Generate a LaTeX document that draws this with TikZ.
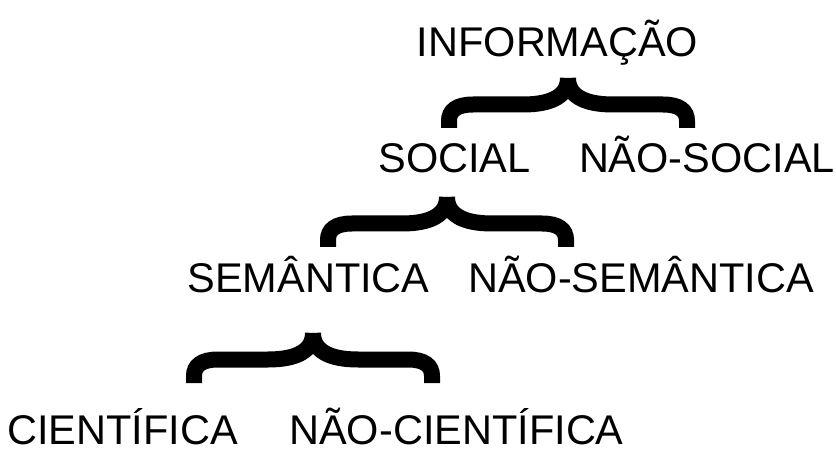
\documentclass[tikz,border=0pt]{standalone}
\usepackage{fontspec}
\setmainfont{Liberation Sans}
\begin{document}
\begin{tikzpicture}[x=1pt,y=-1pt,
  rotulo/.style={anchor=base,inner sep=0pt,text depth=0pt,font=\fontsize{41.5}{48}\selectfont},
  chave/.pic={
    \draw[line width=16pt] (0,0) .. controls (0,17) and (-15,26.5) .. (-45,26.5) -- (-95,26.5)
      .. controls (-112,26.5) and (-119,33) .. (-119,43) -- (-119,50);
    \draw[line width=16pt] (0,0) .. controls (0,17) and (15,26.5) .. (45,26.5) -- (95,26.5)
      .. controls (112,26.5) and (119,33) .. (119,43) -- (119,50);
  }]
\useasboundingbox (0,0) rectangle (836,449);

\node(info)[rotulo] at (557.5,57) {INFORMAÇÃO};
\node(social)[rotulo] at (454.5,173) {SOCIAL};
\node(naosocial)[rotulo] at (707,173) {NÃO-SOCIAL};
\node(semantica)[rotulo] at (308.5,293) {SEMÂNTICA};
\node(naosemantica)[rotulo] at (641,293) {NÃO-SEMÂNTICA};
\node(cientifica)[rotulo] at (122.5,444) {CIENTÍFICA};
\node(naocientifica)[rotulo] at (456.5,444) {NÃO-CIENTÍFICA};

\coordinate(c1) at (568,78);
\coordinate(c2) at (447,197);
\coordinate(c3) at (313,333);
\pic at (c1) {chave};
\pic at (c2) {chave};
\pic at (c3) {chave};
\end{tikzpicture}
\end{document}
